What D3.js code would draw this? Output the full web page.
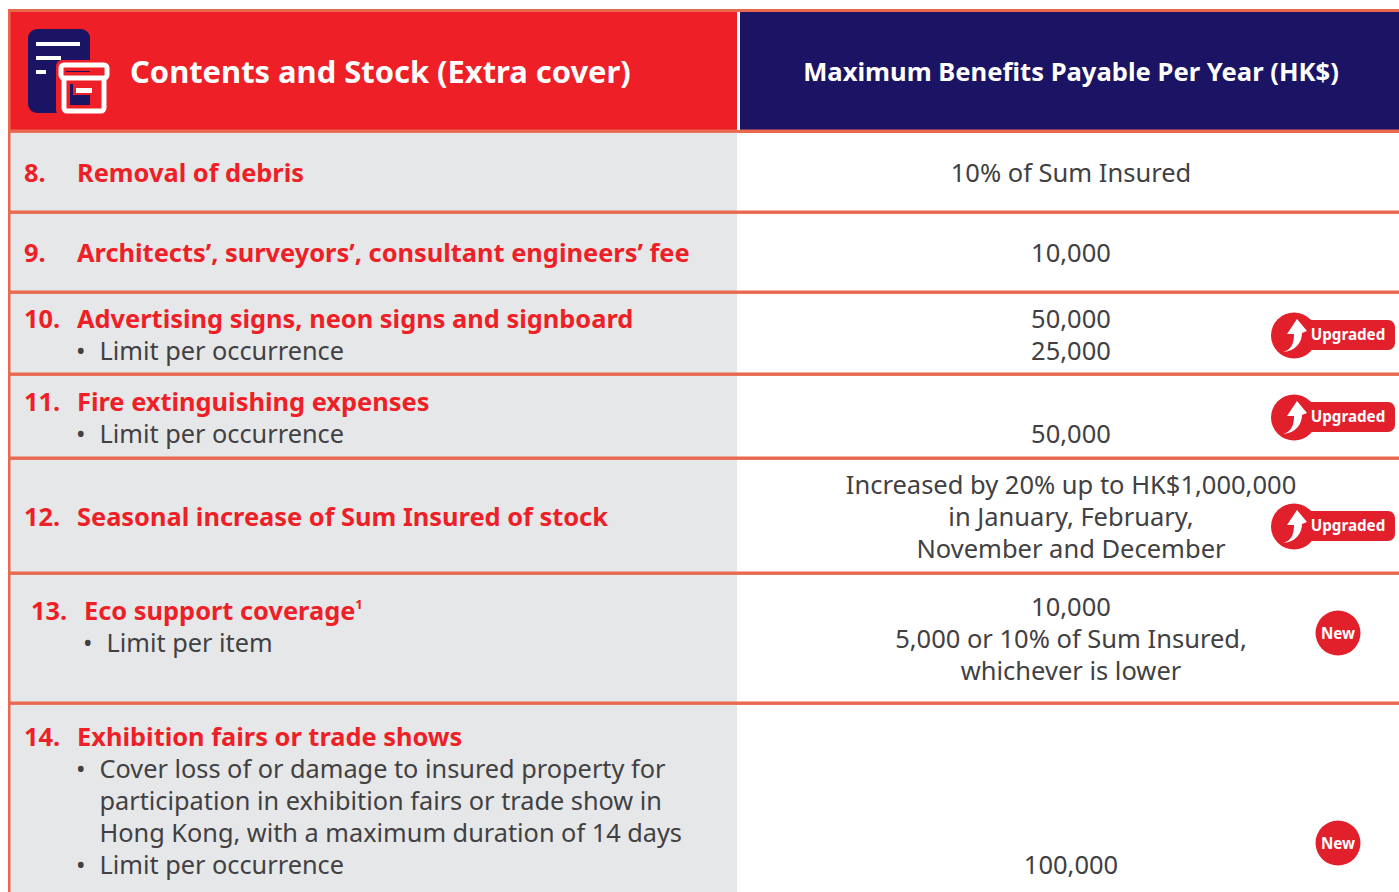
<!DOCTYPE html>
<html lang="en">
  <head>
    <meta charset="UTF-8" />
    <title>Contents and Stock (Extra cover)</title>
    <script src="https://d3js.org/d3.v7.min.js"></script>
    <style>
      body {
        margin: 0;
        background: #fff;
        overflow: hidden;
      }
      text {
        font-family: "Noto Sans", sans-serif;
      }
      .title {
        fill: #ee1f27;
        font-size: 25.4px;
        font-weight: 700;
      }
      .plain {
        fill: #414042;
        font-size: 25.5px;
      }
      .note {
        font-size: 25.3px;
      }
    </style>
  </head>
  <body>
    <div id="chart"></div>
    <script>
      // table content
      const headers = ["Contents and Stock (Extra cover)", "Maximum Benefits Payable Per Year (HK$)"];
      const itemNumbers = ["8.", "9.", "10.", "11.", "12.", "13.", "14."];
      const itemTitles = [
        "Removal of debris",
        "Architects’, surveyors’, consultant engineers’ fee",
        "Advertising signs, neon signs and signboard",
        "Fire extinguishing expenses",
        "Seasonal increase of Sum Insured of stock",
        "Eco support coverage",
        "Exhibition fairs or trade shows",
      ];
      const itemNotes = [
        [],
        [],
        [["Limit per occurrence"]],
        [["Limit per occurrence"]],
        [],
        [["Limit per item"]],
        [
          [
            "Cover loss of or damage to insured property for",
            "participation in exhibition fairs or trade show in",
            "Hong Kong, with a maximum duration of 14 days",
          ],
          ["Limit per occurrence"],
        ],
      ];
      const benefits = [
        ["10% of Sum Insured"],
        ["10,000"],
        ["50,000", "25,000"],
        ["", "50,000"],
        ["Increased by 20% up to HK$1,000,000", "in January, February,", "November and December"],
        ["10,000", "5,000 or 10% of Sum Insured,", "whichever is lower"],
        ["100,000"],
      ];
      const badges = ["", "", "Upgraded", "Upgraded", "Upgraded", "New", "New"];

      // layout
      const width = 1399;
      const height = 892;
      const splitX = 738;
      const rowEdges = [131, 212, 292, 374, 458, 573, 703, 900];
      const titleBaselines = [182, 262, 328, 411, 526, 620, 746];
      const benefitBaselines = [182, 262, 328, 411, 494, 616, 874];
      const badgeCentres = [0, 0, 335, 417, 526, 633, 843];
      const lineHeight = 32;
      const coral = "#e9694f";
      const red = "#ee1f27";
      const badgeRed = "#e1202c";
      const navy = "#1b1464";

      const svg = d3
        .select("#chart")
        .append("svg")
        .attr("width", width)
        .attr("height", height)
        .style("display", "block");

      // header
      svg.append("rect").attr("x", 8).attr("y", 9).attr("width", width - 8).attr("height", 124).attr("fill", coral);
      svg.append("rect").attr("x", 10).attr("y", 12).attr("width", 727).attr("height", 118).attr("fill", red);
      svg.append("rect").attr("x", 740).attr("y", 12).attr("width", width - 740).attr("height", 118).attr("fill", navy);

      svg
        .append("text")
        .attr("x", 130)
        .attr("y", 83)
        .attr("fill", "#fff")
        .attr("font-size", 30.9)
        .attr("font-weight", 700)
        .text(headers[0]);
      svg
        .append("text")
        .attr("x", 1071)
        .attr("y", 81)
        .attr("fill", "#fff")
        .attr("font-size", 25.6)
        .attr("font-weight", 700)
        .attr("text-anchor", "middle")
        .text(headers[1]);

      // icon: a document behind a storage box
      const icon = svg.append("g");
      icon.append("rect").attr("x", 28).attr("y", 29).attr("width", 62).attr("height", 84).attr("rx", 9).attr("fill", navy);
      icon
        .selectAll(".doc-line")
        .data([44, 25, 10])
        .join("rect")
        .attr("class", "doc-line")
        .attr("x", 36)
        .attr("y", (d, i) => 42 + i * 14)
        .attr("width", (d) => d)
        .attr("height", 4)
        .attr("fill", "#fff");
      icon.append("rect").attr("x", 56).attr("y", 60).attr("width", 54).attr("height", 56).attr("rx", 6).attr("fill", red);
      icon
        .append("rect")
        .attr("x", 64)
        .attr("y", 76)
        .attr("width", 40)
        .attr("height", 35)
        .attr("rx", 3)
        .attr("fill", red)
        .attr("stroke", "#fff")
        .attr("stroke-width", 5);
      icon.append("rect").attr("x", 70).attr("y", 84).attr("width", 20).attr("height", 21).attr("fill", navy);
      icon.append("rect").attr("x", 73).attr("y", 84).attr("width", 25).attr("height", 11).attr("fill", red);
      icon.append("rect").attr("x", 76).attr("y", 88).attr("width", 16).attr("height", 5).attr("fill", "#fff");
      icon
        .append("rect")
        .attr("x", 61)
        .attr("y", 65)
        .attr("width", 46)
        .attr("height", 13)
        .attr("rx", 3)
        .attr("fill", red)
        .attr("stroke", "#fff")
        .attr("stroke-width", 5);
      icon.append("rect").attr("x", 66).attr("y", 71).attr("width", 24).attr("height", 1).attr("fill", navy);

      // rows
      const rows = svg
        .selectAll(".row")
        .data(itemTitles)
        .join("g")
        .attr("class", "row");

      rows
        .append("rect")
        .attr("x", 10)
        .attr("y", (d, i) => rowEdges[i])
        .attr("width", splitX - 11)
        .attr("height", (d, i) => rowEdges[i + 1] - rowEdges[i])
        .attr("fill", "#e6e7e8");

      svg
        .selectAll(".rule")
        .data(rowEdges.slice(0, -1))
        .join("rect")
        .attr("class", "rule")
        .attr("x", 8)
        .attr("y", (d) => d - 1.5)
        .attr("width", width - 8)
        .attr("height", 3.4)
        .attr("fill", coral);
      svg.append("rect").attr("x", 8).attr("y", 9).attr("width", 2.5).attr("height", height).attr("fill", coral);
      svg.append("rect").attr("x", 737).attr("y", 12).attr("width", 3).attr("height", 118).attr("fill", "#fff");

      // row 13 sits a little to the right in the source
      const indent = (i) => (i === 5 ? 7 : 0);

      rows
        .append("text")
        .attr("class", "title")
        .attr("x", (d, i) => 24 + indent(i))
        .attr("y", (d, i) => titleBaselines[i])
        .text((d, i) => itemNumbers[i]);

      const titles = rows
        .append("text")
        .attr("class", "title")
        .attr("x", (d, i) => 77 + indent(i))
        .attr("y", (d, i) => titleBaselines[i])
        .text((d) => d);
      titles
        .filter((d, i) => i === 5)
        .append("tspan")
        .attr("font-size", 13)
        .attr("dy", -11)
        .text("1");

      // bullet notes below each title
      rows.each(function (d, i) {
        const g = d3.select(this);
        let line = 1;
        itemNotes[i].forEach((note) => {
          g.append("text")
            .attr("class", "plain note")
            .attr("x", 76 + indent(i))
            .attr("y", titleBaselines[i] + line * lineHeight)
            .text("•");
          note.forEach((txt) => {
            g.append("text")
              .attr("class", "plain note")
              .attr("x", 99.5 + indent(i))
              .attr("y", titleBaselines[i] + line * lineHeight)
              .text(txt);
            line += 1;
          });
        });

        benefits[i].forEach((txt, k) => {
          g.append("text")
            .attr("class", "plain")
            .attr("x", 1071)
            .attr("y", benefitBaselines[i] + k * lineHeight)
            .attr("text-anchor", "middle")
            .text(txt);
        });

        // badges
        const cy = badgeCentres[i];
        if (badges[i] === "Upgraded") {
          g.append("rect").attr("x", 1294).attr("y", cy - 15).attr("width", 101).attr("height", 30).attr("rx", 7).attr("fill", badgeRed);
          g.append("circle").attr("cx", 1294).attr("cy", cy + 0.5).attr("r", 23).attr("fill", badgeRed);
          g.append("path")
            .attr("transform", `translate(1294,${cy})`)
            .attr("fill", "#fff")
            .attr("d", "M-11,17 C-3,15 0,9 0,-1 L-7,-1 L3,-16 L13,-4 L8,-2 C8,7 2,16 -11,17 Z");
          g.append("text")
            .attr("x", 1348)
            .attr("y", cy + 5)
            .attr("fill", "#fff")
            .attr("font-size", 15.2)
            .attr("font-weight", 700)
            .attr("text-anchor", "middle")
            .text(badges[i]);
        } else if (badges[i] === "New") {
          g.append("circle").attr("cx", 1338).attr("cy", cy).attr("r", 22.5).attr("fill", badgeRed);
          g.append("text")
            .attr("x", 1338)
            .attr("y", cy + 5.5)
            .attr("fill", "#fff")
            .attr("font-size", 15.2)
            .attr("font-weight", 700)
            .attr("text-anchor", "middle")
            .text(badges[i]);
        }
      });
    </script>
  </body>
</html>
